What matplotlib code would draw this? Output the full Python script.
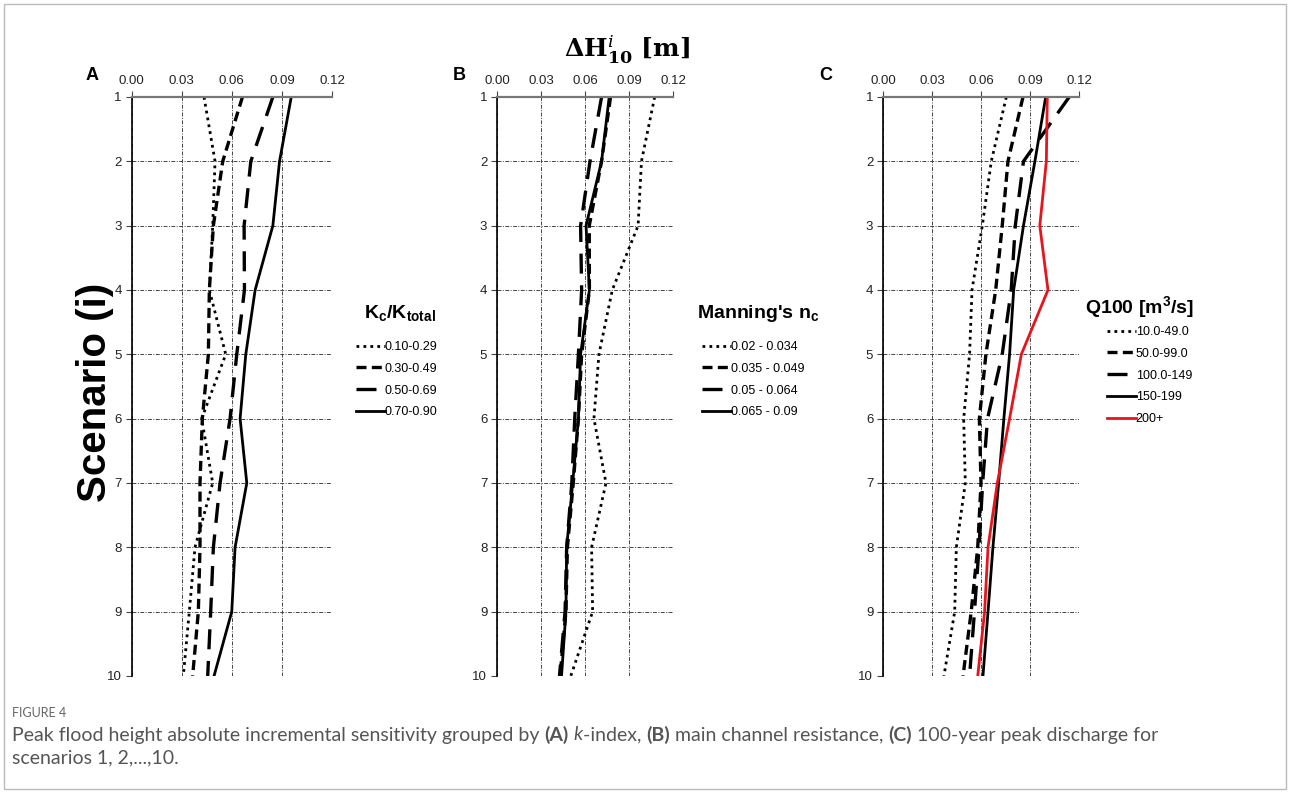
import matplotlib.pyplot as plt
from matplotlib.patches import Rectangle

plt.rcParams['font.family'] = ['Liberation Sans', 'DejaVu Sans']
plt.rcParams['mathtext.fontset'] = 'custom'
plt.rcParams['mathtext.rm'] = 'Liberation Sans'
plt.rcParams['mathtext.bf'] = 'Liberation Sans:bold'
plt.rcParams['mathtext.it'] = 'Liberation Sans:italic'

scenarios = [1, 2, 3, 4, 5, 6, 7, 8, 9, 10]

# panel A: grouped by k-index
a_labels = ['0.10-0.29', '0.30-0.49', '0.50-0.69', '0.70-0.90']
a_010 = [0.0434, 0.0500, 0.0486, 0.0466, 0.0564, 0.0420, 0.0486, 0.0380, 0.0346, 0.0310]
a_030 = [0.0664, 0.0546, 0.0490, 0.0466, 0.0460, 0.0424, 0.0410, 0.0410, 0.0400, 0.0366]
a_050 = [0.0846, 0.0714, 0.0674, 0.0676, 0.0630, 0.0590, 0.0530, 0.0490, 0.0474, 0.0456]
a_070 = [0.0956, 0.0886, 0.0846, 0.0740, 0.0684, 0.0650, 0.0690, 0.0620, 0.0600, 0.0494]

# panel B: grouped by main channel resistance
b_labels = ['0.02 - 0.034', '0.035 - 0.049', '0.05 - 0.064', '0.065 - 0.09']
b_002 = [0.1075, 0.0985, 0.0962, 0.0786, 0.0695, 0.0661, 0.0743, 0.0645, 0.0652, 0.0503]
b_035 = [0.0774, 0.0713, 0.0629, 0.0630, 0.0577, 0.0555, 0.0520, 0.0480, 0.0470, 0.0430]
b_050 = [0.0713, 0.0634, 0.0570, 0.0577, 0.0555, 0.0530, 0.0510, 0.0475, 0.0464, 0.0426]
b_065 = [0.0765, 0.0713, 0.0607, 0.0630, 0.0570, 0.0555, 0.0516, 0.0475, 0.0470, 0.0440]

# panel C: grouped by 100-year peak discharge
c_labels = ['10.0-49.0', '50.0-99.0', '100.0-149', '150-199', '200+']
c_10 = [0.0755, 0.0663, 0.0608, 0.0545, 0.0530, 0.0494, 0.0504, 0.0449, 0.0439, 0.0373]
c_50 = [0.0857, 0.0765, 0.0730, 0.0690, 0.0630, 0.0590, 0.0600, 0.0580, 0.0540, 0.0490]
c_100 = [0.1140, 0.0860, 0.0810, 0.0785, 0.0730, 0.0640, 0.0610, 0.0588, 0.0560, 0.0530]
c_150 = [0.0996, 0.0930, 0.0860, 0.0800, 0.0775, 0.0740, 0.0708, 0.0673, 0.0643, 0.0612]
c_200 = [0.1006, 0.1000, 0.0960, 0.1010, 0.0847, 0.0775, 0.0700, 0.0643, 0.0622, 0.0580]

x_ticks = [0.00, 0.03, 0.06, 0.09, 0.12]

W, H = 1290, 793
fig = plt.figure(figsize=(W / 100, H / 100), dpi=100)

# line styles: dotted, short dash, long dash, solid
sty = [
    dict(color='black', lw=2.0, dashes=(1, 1.5)),
    dict(color='black', lw=2.4, dashes=(3, 1.6)),
    dict(color='black', lw=2.4, dashes=(6, 3.5)),
    dict(color='black', lw=2.0, ls='-'),
    dict(color='#e8141b', lw=2.0, ls='-'),
]


def make_axes(left, right):
    ax = fig.add_axes([left / W, 1 - 676 / H, (right - left) / W, 579 / H])
    ax.set_xlim(0, 0.12)
    ax.set_ylim(10, 1)
    ax.set_xticks(x_ticks)
    ax.set_xticklabels(['%.2f' % v for v in x_ticks])
    ax.set_yticks(scenarios)
    ax.xaxis.tick_top()
    ax.tick_params(axis='both', labelsize=9.5, labelcolor='#222', length=4,
                   width=0.8, color='#444', pad=3)
    ax.grid(True, ls=(0, (4, 1.5, 1, 1.5)), color='#444', lw=0.7)
    ax.spines['right'].set_visible(False)
    ax.spines['bottom'].set_visible(False)
    ax.spines['left'].set_color('black')
    ax.spines['left'].set_linewidth(1.2)
    ax.spines['top'].set_color('#777')
    ax.spines['top'].set_linewidth(1.6)
    ax.set_axisbelow(True)
    return ax


def draw_legend(lines, labels, x, y):
    fig.legend(lines, labels, loc='upper left',
               bbox_to_anchor=(x / W, 1 - y / H), frameon=False, fontsize=9,
               handlelength=2.3, handletextpad=0.0, labelspacing=0.78,
               borderpad=0, borderaxespad=0)


axA = make_axes(131.5, 332)
la = []
for vals, s in zip([a_010, a_030, a_050, a_070], sty):
    la += axA.plot(vals, scenarios, **s)
draw_legend(la, a_labels, 356, 341)

axB = make_axes(497, 673)
lb = []
for vals, s in zip([b_002, b_035, b_050, b_065], sty):
    lb += axB.plot(vals, scenarios, **s)
draw_legend(lb, b_labels, 702, 341)

axC = make_axes(883, 1079)
lc = []
for vals, s in zip([c_10, c_50, c_100, c_150, c_200], sty):
    lc += axC.plot(vals, scenarios, **s)
draw_legend(lc, c_labels, 1107, 326)

# panel letters and titles
for letter, xp in [('A', 92), ('B', 459), ('C', 826)]:
    fig.text(xp / W, 1 - 76 / H, letter, fontsize=13, fontweight='bold',
             ha='center', va='center')

fig.text(627 / W, 1 - 50 / H, r'$\mathbf{\Delta H}_{\mathbf{10}}^{\mathit{i}}$ [m]',
         fontsize=18, fontweight='bold', family='DejaVu Serif',
         math_fontfamily='dejavuserif', ha='center', va='center')

fig.text(95 / W, 1 - 392 / H, 'Scenario (i)', fontsize=29, fontweight='bold',
         rotation=90, ha='center', va='center')

fig.text(364 / W, 1 - 313 / H, r'$\mathbf{K_c/K_{total}}$', fontsize=14,
         ha='left', va='center')
fig.text(697 / W, 1 - 313 / H, "Manning's " + r'$\mathbf{n_c}$', fontsize=14,
         fontweight='bold', ha='left', va='center')
fig.text(1085 / W, 1 - 307 / H, r'$\mathbf{Q100\ [m^3/s]}$', fontsize=14,
         ha='left', va='center')

# caption
cap_font = ['Lato', 'DejaVu Sans']
fig.text(12 / W, 1 - 713 / H, 'FIGURE 4', fontsize=9, color='#666',
         family=cap_font, ha='left', va='center')

renderer = fig.canvas.get_renderer()


def caption_line(pieces, y):
    x = 12
    for txt, weight, style in pieces:
        t = fig.text(x / W, 1 - y / H, txt, fontsize=14, color='#555',
                     family=cap_font, fontweight=weight, fontstyle=style,
                     ha='left', va='center')
        x += t.get_window_extent(renderer).width


caption_line([
    ('Peak flood height absolute incremental sensitivity grouped by\u00a0', 'normal', 'normal'),
    ('(A)', 'bold', 'normal'),
    ('\u00a0', 'normal', 'normal'),
    ('k', 'normal', 'italic'),
    ('-index,\u00a0', 'normal', 'normal'),
    ('(B)', 'bold', 'normal'),
    ('\u00a0main channel resistance,\u00a0', 'normal', 'normal'),
    ('(C)', 'bold', 'normal'),
    ('\u00a0100-year peak discharge for', 'normal', 'normal'),
], 735)
caption_line([('scenarios 1, 2,...,10.', 'normal', 'normal')], 758)

fig.patches.append(Rectangle((4 / W, 4 / H), 1 - 8 / W, 1 - 8 / H,
                             transform=fig.transFigure, fill=False,
                             edgecolor='#bbb', lw=1))

fig.savefig('out.png', dpi=100)
